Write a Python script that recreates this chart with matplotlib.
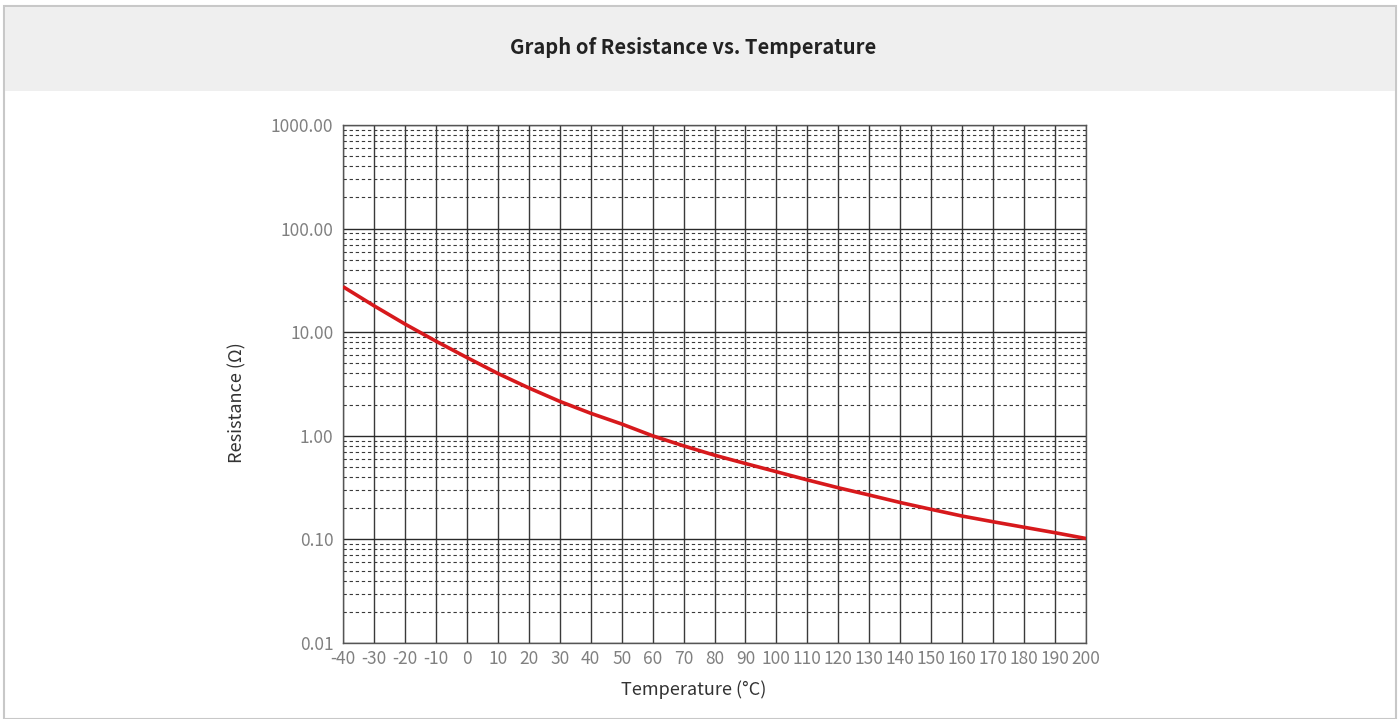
import numpy as np
import matplotlib.pyplot as plt
from matplotlib.patches import Rectangle
from matplotlib.ticker import FixedLocator, NullFormatter

plt.rcParams['font.family'] = ['Noto Sans CJK SC', 'DejaVu Sans']

# 数据：温度 (°C) 与电阻 (Ω)
temps = [-40, -30, -20, -10, 0, 10, 20, 30, 40, 50, 60, 70, 80, 90, 100,
         110, 120, 130, 140, 150, 160, 170, 180, 190, 200]
resist = [27.5, 18.0, 12.0, 8.2, 5.7, 4.0, 2.9, 2.15, 1.65, 1.3, 1.0, 0.8,
          0.65, 0.54, 0.45, 0.375, 0.315, 0.268, 0.227, 0.195, 0.168,
          0.148, 0.131, 0.116, 0.102]
x_ticks = list(range(-40, 201, 10))
y_ticks = [0.01, 0.1, 1, 10, 100, 1000]

title = 'Graph of Resistance vs. Temperature'
xlabel = 'Temperature (°C)'
ylabel = 'Resistance (Ω)'

W, H = 1400, 719
fig = plt.figure(figsize=(W / 100, H / 100), dpi=100)

# 外框与标题栏
fig.patches.append(Rectangle((4 / W, 0), (W - 8) / W, (H - 6) / H,
                             transform=fig.transFigure, facecolor='white',
                             edgecolor='#c8c8c8', linewidth=1.5, zorder=-2))
fig.patches.append(Rectangle((5 / W, (H - 91) / H), (W - 10) / W, 84 / H,
                             transform=fig.transFigure, facecolor='#efefef',
                             edgecolor='none', zorder=-1))
fig.text(693 / W, 1 - 47 / H, title, ha='center', va='center', fontsize=14.5,
         fontweight='bold', color='#222222')

ax = fig.add_axes([343 / W, 1 - 643 / H, (1086 - 343) / W, (643 - 125) / H])
ax.set_zorder(2)
ax.plot(temps, resist, color='#d7191c', linewidth=2.6, zorder=5,
        solid_capstyle='butt')

ax.set_yscale('log')
ax.set_xlim(-40, 200)
ax.set_ylim(0.01, 1000)
ax.xaxis.set_major_locator(FixedLocator(x_ticks))
ax.yaxis.set_major_locator(FixedLocator(y_ticks))
ax.yaxis.set_minor_locator(FixedLocator(
    [m * 10.0 ** e for e in range(-2, 3) for m in range(2, 10)]))
ax.yaxis.set_minor_formatter(NullFormatter())
ax.set_yticklabels(['%.2f' % v for v in y_ticks])
ax.set_xticklabels([str(v) for v in x_ticks])

ax.grid(True, which='major', axis='x', color='#3a3a3a', linewidth=1.0)
ax.grid(True, which='major', axis='y', color='#2a2a2a', linewidth=1.0)
ax.grid(True, which='minor', axis='y', color='#3a3a3a', linewidth=0.8,
        linestyle=(0, (3, 2.5)))
ax.set_axisbelow(True)

for s in ax.spines.values():
    s.set_color('#555555')
    s.set_linewidth(1.0)

ax.tick_params(which='both', length=0, labelsize=12.5, labelcolor='#808080')
ax.tick_params(axis='x', pad=5)
ax.tick_params(axis='y', pad=7)
for lab in ax.get_xticklabels() + ax.get_yticklabels():
    lab.set_fontweight('light')

ax.set_xlabel(xlabel, fontsize=13, color='#333333', va='center')
ax.set_ylabel(ylabel, fontsize=13, color='#333333', va='center')
ax.xaxis.set_label_coords((694 - 343) / 743, (643 - 690) / 518)
ax.yaxis.set_label_coords((237 - 343) / 743, (643 - 403) / 518)

fig.savefig('out.png', dpi=100)
